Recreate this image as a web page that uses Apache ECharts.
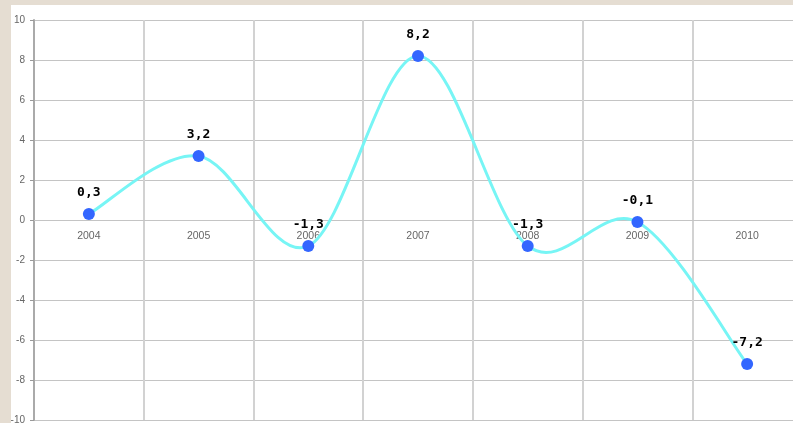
<!DOCTYPE html>
<html><head><meta charset="utf-8">
<script src="https://cdn.jsdelivr.net/npm/echarts@6/dist/echarts.min.js"></script>
<style>
html,body{margin:0;padding:0;background:#e5ddd2;width:793px;height:423px;overflow:hidden;}
#c{position:absolute;left:11px;top:5px;width:782px;height:418px;background:#fff;}
</style></head><body>
<div id="c"></div>
<script>
var categories = ['2004','2005','2006','2007','2008','2009','2010'];
var values = [0.3, 3.2, -1.3, 8.2, -1.3, -0.1, -7.2];
var chart = echarts.init(document.getElementById('c'));

function curveItem(params, api) {
  if (params.dataIndex !== 0) return null;
  var pts = values.map(function(v, i){ return api.coord([i, v]); });
  var n = pts.length;
  var d = 'M' + pts[0][0] + ' ' + pts[0][1];
  for (var i = 0; i < n - 1; i++) {
    var p0 = pts[Math.max(0, i - 1)], p1 = pts[i], p2 = pts[i + 1], p3 = pts[Math.min(n - 1, i + 2)];
    var c1x = p1[0] + (p2[0] - p0[0]) / 6, c1y = p1[1] + (p2[1] - p0[1]) / 6;
    var c2x = p2[0] - (p3[0] - p1[0]) / 6, c2y = p2[1] - (p3[1] - p1[1]) / 6;
    d += ' C' + c1x + ' ' + c1y + ' ' + c2x + ' ' + c2y + ' ' + p2[0] + ' ' + p2[1];
  }
  return {
    type: 'path',
    shape: {pathData: d},
    style: {fill: null, stroke: '#77f5f5', lineWidth: 3}
  };
}

chart.setOption({
  animation: false,
  grid: {left: 23, top: 15, right: -9, bottom: 3, outerBoundsMode: 'none', containLabel: false},
  xAxis: {
    type: 'category', data: categories, boundaryGap: true,
    position: 'bottom', offset: -200,
    axisLine: {show: true, onZero: false, lineStyle: {color: '#c4c4c4', width: 1}},
    axisTick: {show: false},
    axisLabel: {color: '#666', fontSize: 10.5, fontFamily: 'Arial, Liberation Sans', margin: 11},
    splitLine: {show: true, lineStyle: {color: '#d2d2d2', width: 2}}
  },
  yAxis: {
    type: 'value', min: -10, max: 10, interval: 2,
    axisLine: {show: true, lineStyle: {color: '#aaa', width: 2}},
    axisTick: {show: true, length: 4, lineStyle: {color: '#999'}},
    axisLabel: {color: '#666', fontSize: 10, fontFamily: 'Arial, Liberation Sans', margin: 9},
    splitLine: {show: true, lineStyle: {color: '#c4c4c4', width: 1}}
  },
  series: [{
    type: 'custom',
    renderItem: curveItem,
    data: values.map(function(v, i){ return [i, v]; }),
    z: 2, silent: true
  }, {
    type: 'line', data: values,
    lineStyle: {width: 0, opacity: 0},
    symbol: 'circle', symbolSize: 12,
    itemStyle: {color: '#3366ff'},
    z: 3,
    label: {
      show: true, position: 'top', distance: 9,
      color: '#000', fontWeight: 'bold', fontSize: 13, fontFamily: 'DejaVu Sans Mono',
      formatter: function(p){ return String(p.value).replace('.', ','); }
    }
  }]
});
</script></body></html>
